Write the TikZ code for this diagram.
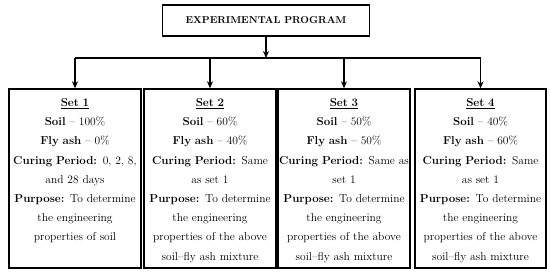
\documentclass[tikz,border=0pt]{standalone}
\usepackage{tikz}
\usetikzlibrary{arrows.meta,positioning}

\begin{document}
\begin{tikzpicture}[x=1pt,y=1pt,>={Stealth[length=7pt,width=6pt]},
  progbox/.style={draw,line width=1.4pt,minimum width=207pt,minimum height=31pt,
    inner sep=0pt,font=\fontsize{10}{12}\selectfont\bfseries},
  setbox/.style={draw,line width=1.4pt,minimum width=132pt,minimum height=179pt,inner sep=0pt},
  settext/.style={align=center,text width=130pt,inner sep=0pt,
    font=\fontsize{11.5}{19.2}\selectfont},
  link/.style={line width=1.4pt}]
  \useasboundingbox (0,0) rectangle (550,274);
  \node[progbox] (prog) at (266,253.5) {EXPERIMENTAL PROGRAM};
  \node[setbox] (set1) at (75,95.5) {};
  \node[setbox] (set2) at (210,95.5) {};
  \node[setbox] (set3) at (344,95.5) {};
  \node[setbox,minimum width=131pt] (set4) at (480.5,95.5) {};
  \coordinate (bus) at (266,216);
  % texts of the four sets
  \node[settext,below=10pt of set1.north] (txt1) {\underline{\textbf{Set 1}}\\
    \textbf{Soil} -- 100\%\\ \textbf{Fly ash} -- 0\%\\
    \textbf{Curing Period:} 0, 2, 8,\\ and 28 days\\
    \textbf{Purpose:} To determine\\ the engineering\\ properties of soil};
  \node[settext,below=10pt of set2.north] (txt2) {\underline{\textbf{Set 2}}\\
    \textbf{Soil} -- 60\%\\ \textbf{Fly ash} -- 40\%\\
    \textbf{Curing Period:} Same\\ as set 1\\
    \textbf{Purpose:} To determine\\ the engineering\\ properties of the above\\ soil--fly ash mixture};
  \node[settext,below=10pt of set3.north] (txt3) {\underline{\textbf{Set 3}}\\
    \textbf{Soil} -- 50\%\\ \textbf{Fly ash} -- 50\%\\
    \textbf{Curing Period:} Same as\\ set 1\\
    \textbf{Purpose:} To determine\\ the engineering\\ properties of the above\\ soil--fly ash mixture};
  \node[settext,below=10pt of set4.north] (txt4) {\underline{\textbf{Set 4}}\\
    \textbf{Soil} -- 40\%\\ \textbf{Fly ash} -- 60\%\\
    \textbf{Curing Period:} Same\\ as set 1\\
    \textbf{Purpose:} To determine\\ the engineering\\ properties of the above\\ soil--fly ash mixture};
  % connectors
  \draw[link,->] (prog.south) -- (bus);
  \draw[link] (set1.north |- bus) -- (set4.north |- bus);
  \draw[link,->] (set1.north |- bus) -- (set1.north);
  \draw[link,->] (set2.north |- bus) -- (set2.north);
  \draw[link,->] (set3.north |- bus) -- (set3.north);
  \draw[link,->] (set4.north |- bus) -- (set4.north);
\end{tikzpicture}
\end{document}
